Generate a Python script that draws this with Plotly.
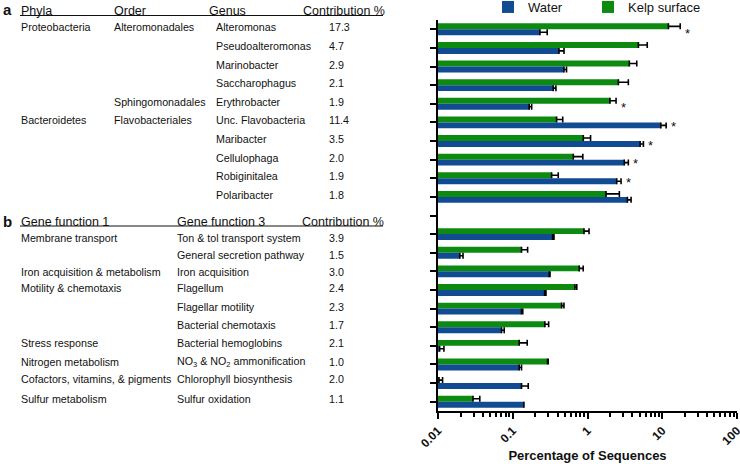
import math
import plotly.graph_objects as go

# ---------------- data ----------------
phyla = ["Proteobacteria", "", "", "", "", "Bacteroidetes", "", "", "", ""]
order = ["Alteromonadales", "", "", "", "Sphingomonadales", "Flavobacteriales", "", "", "", ""]
genus = ["Alteromonas", "Pseudoalteromonas", "Marinobacter", "Saccharophagus", "Erythrobacter",
         "Unc. Flavobacteria", "Maribacter", "Cellulophaga", "Robiginitalea", "Polaribacter"]
genus_contrib = ["17.3", "4.7", "2.9", "2.1", "1.9", "11.4", "3.5", "2.0", "1.9", "1.8"]

gene_fn1 = ["Membrane transport", "", "Iron acquisition & metabolism", "Motility & chemotaxis", "", "",
            "Stress response", "Nitrogen metabolism", "Cofactors, vitamins, & pigments", "Sulfur metabolism"]
gene_fn3 = ["Ton & tol transport system", "General secretion pathway", "Iron acquisition", "Flagellum",
            "Flagellar motility", "Bacterial chemotaxis", "Bacterial hemoglobins",
            "NO<sub>3</sub> & NO<sub>2</sub> ammonification", "Chlorophyll biosynthesis", "Sulfur oxidation"]
gene_contrib = ["3.9", "1.5", "3.0", "2.4", "2.3", "1.7", "2.1", "1.0", "2.0", "1.1"]

water_genus = [0.231, 0.415, 0.484, 0.348, 0.166, 9.58, 5.06, 3.11, 2.46, 3.42]
water_genus_err = [0.058, 0.07, 0.04, 0.03, 0.013, 1.7, 0.54, 0.41, 0.35, 0.41]
kelp_genus = [12.1, 4.80, 3.63, 2.59, 2.00, 0.386, 0.879, 0.646, 0.331, 1.77]
kelp_genus_err = [5.3, 1.5, 0.93, 0.93, 0.41, 0.08, 0.22, 0.22, 0.075, 0.9]

water_gene = [0.341, 0.0196, 0.308, 0.267, 0.131, 0.0708, 0.0105, 0.122, 0.131, 0.141]
water_gene_err = [0.015, 0.002, 0.007, 0.011, 0.005, 0.006, 0.0015, 0.009, 0.03, 0.0]
kelp_gene = [0.898, 0.131, 0.776, 0.679, 0.451, 0.269, 0.122, 0.292, 0.0103, 0.0294]
kelp_gene_err = [0.15, 0.027, 0.1, 0.04, 0.033, 0.033, 0.034, 0.006, 0.0012, 0.0068]

significant = ["Alteromonas", "Erythrobacter", "Unc. Flavobacteria", "Maribacter", "Cellulophaga", "Robiginitalea"]

x_tickvals = [0.01, 0.1, 1, 10, 100]
x_ticktext = ["0.01", "0.1", "1", "10", "100"]

# ---------------- figure ----------------
W, H = 740, 464
ML, MR, MT, MB = 438, 3, 20, 53
PW, PH = W - ML - MR, H - MT - MB
BLUE = "#114c92"
GREEN = "#0d8b10"
FONT = "Liberation Sans, Arial, sans-serif"

gene_ids = ["g%d" % i for i in range(len(gene_fn3))]
cats = genus + [" "] + gene_ids
water = water_genus + [None] + water_gene
water_err = water_genus_err + [0] + water_gene_err
kelp = kelp_genus + [None] + kelp_gene
kelp_err = kelp_genus_err + [0] + kelp_gene_err


def err(arr, color="black"):
    return dict(type="data", symmetric=False, array=arr, arrayminus=[0] * len(arr),
                color=color, thickness=1.6, width=3)


fig = go.Figure()
fig.add_trace(go.Bar(name="Kelp surface", y=cats, x=kelp, orientation="h", marker_color=GREEN,
                     marker_line_width=0, error_x=err(kelp_err), legend="legend2", showlegend=True))
fig.add_trace(go.Bar(name="Water", y=cats, x=water, orientation="h", marker_color=BLUE,
                     marker_line_width=0, error_x=err(water_err), legend="legend", showlegend=True))


def px2x(px):
    return (px - ML) / PW


def py2y(py):
    return (MT + PH - py) / PH


ann = []


def text(s, px, py, size=10.7, bold=False, yref="paper", y=None, yshift=0):
    ann.append(dict(text=s, x=px2x(px), xref="paper", xanchor="left",
                    y=py2y(py) if y is None else y, yref=yref, yanchor="middle",
                    yshift=yshift, showarrow=False,
                    font=dict(family=FONT, size=size, color="#111",
                              weight="bold" if bold else "normal")))


# table a
text("a", 1, 9, size=15, bold=True)
for s, px in [("Phyla", 19), ("Order", 111.5), ("Genus", 207), ("Contribution %", 300.5)]:
    text(s, px, 11.5, size=12.5)
for i in range(len(genus)):
    text(phyla[i], 19, 0, y=i, yref="y", yshift=2)
    text(order[i], 111.5, 0, y=i, yref="y", yshift=2)
    text(genus[i], 214, 0, y=i, yref="y", yshift=2)
    text(genus_contrib[i], 327, 0, y=i, yref="y", yshift=2)

# table b
text("b", 1, 221.5, size=15, bold=True)
for s, px in [("Gene function 1", 19), ("Gene function 3", 175), ("Contribution %", 300)]:
    text(s, px, 221.5, size=12.5)
b_rows_py = [238.3, 255, 271.7, 288, 306.7, 325, 343, 361.7, 379, 399]
for i in range(len(gene_fn3)):
    text(gene_fn1[i], 19, b_rows_py[i])
    text(gene_fn3[i], 175, b_rows_py[i])
    text(gene_contrib[i], 327, b_rows_py[i])

# significance stars
for g in significant:
    i = genus.index(g)
    end = max(kelp_genus[i] + kelp_genus_err[i], water_genus[i] + water_genus_err[i])
    ann.append(dict(text="*", x=math.log10(end), xref="x", y=i, yref="y", xanchor="center",
                    yanchor="middle", xshift=7, yshift=-4, showarrow=False,
                    font=dict(family=FONT, size=13, color="#111")))

shapes = [
    dict(type="line", xref="paper", yref="paper", x0=px2x(20), x1=px2x(383), y0=py2y(15.5), y1=py2y(15.5),
         line=dict(color="#111", width=1)),
    dict(type="line", xref="paper", yref="paper", x0=px2x(20), x1=px2x(383), y0=py2y(226), y1=py2y(226),
         line=dict(color="#111", width=1)),
]

minor_vals = [m * 10 ** e for e in range(-2, 2) for m in range(2, 10)]


def legend_at(px):
    return dict(orientation="h", x=px2x(px), xanchor="left", y=py2y(7), yref="paper", yanchor="middle",
                font=dict(size=13, family=FONT), bgcolor="rgba(0,0,0,0)", itemclick=False, visible=True)


fig.update_layout(
    width=W, height=H, margin=dict(l=ML, r=MR, t=MT, b=MB, pad=0, autoexpand=False),
    paper_bgcolor="white", plot_bgcolor="white", showlegend=True,
    barmode="group", bargap=0.36, bargroupgap=0,
    font=dict(family=FONT, color="#111"),
    annotations=ann, shapes=shapes,
    legend=legend_at(488), legend2=legend_at(588),
    xaxis=dict(type="log", range=[-2.0005, 2.0005], showgrid=False, zeroline=False, showline=True,
               linecolor="black", linewidth=2, ticks="outside", ticklen=6, tickwidth=2, tickcolor="black",
               tickvals=x_tickvals, ticktext=x_ticktext, tickangle=-45, ticklabeloverflow="allow",
               tickfont=dict(size=12, family=FONT, weight="bold"),
               minor=dict(ticks="outside", ticklen=4, tickwidth=1.5, tickcolor="black", tickvals=minor_vals),
               title=dict(text="Percentage of Sequences", standoff=2,
                          font=dict(size=13, family=FONT, weight="bold"))),
    yaxis=dict(type="category", categoryorder="array", categoryarray=cats, range=[len(cats) - 0.5, -0.5],
               showticklabels=False, showgrid=False, zeroline=False, showline=True, linecolor="black",
               linewidth=2, ticks="outside", ticklen=6, tickwidth=2, tickcolor="black"),
)

fig.write_html("out.html", config={"displayModeBar": False},
               post_script="document.body.style.margin='0';document.body.style.overflow='hidden';")
